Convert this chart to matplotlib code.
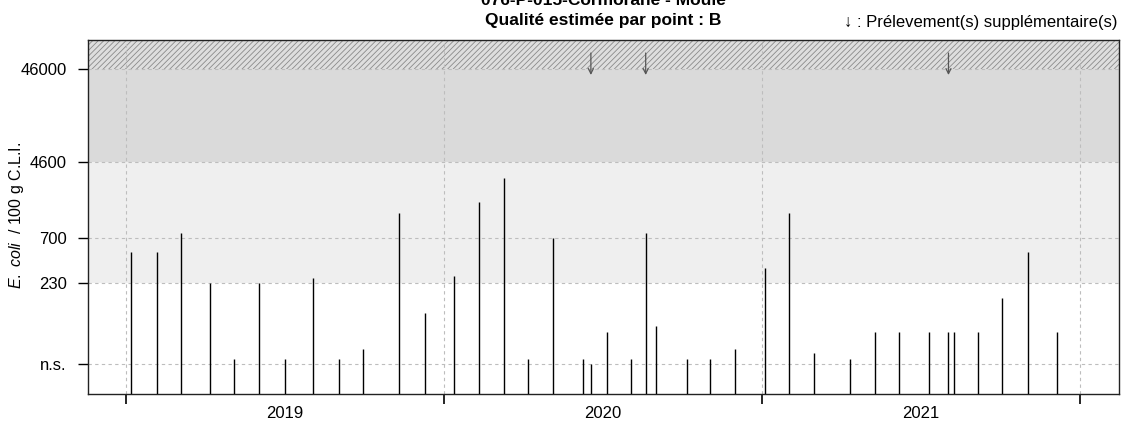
import matplotlib
matplotlib.use('Agg')
import matplotlib.pyplot as plt
import datetime as dt

plt.rcParams['font.family'] = ['Liberation Sans', 'DejaVu Sans']
plt.rcParams['mathtext.fontset'] = 'custom'
plt.rcParams['mathtext.it'] = 'Liberation Sans:italic'
plt.rcParams['mathtext.rm'] = 'Liberation Sans'
plt.rcParams['hatch.linewidth'] = 0.6
plt.rcParams['hatch.color'] = '#8a8a8a'

# ---- data ----
sample_dates = [
    '2019-01-06', '2019-02-05', '2019-03-05', '2019-04-07', '2019-05-05', '2019-06-03',
    '2019-07-02', '2019-08-04', '2019-09-02', '2019-09-30', '2019-11-11', '2019-12-10',
    '2020-01-13', '2020-02-10', '2020-03-10', '2020-04-07', '2020-05-05', '2020-06-09',
    '2020-06-18', '2020-07-07', '2020-08-03', '2020-08-20', '2020-09-01', '2020-10-06',
    '2020-11-02', '2020-12-01',
    '2021-01-04', '2021-02-01', '2021-03-01', '2021-04-12', '2021-05-10', '2021-06-07',
    '2021-07-12', '2021-08-03', '2021-08-09', '2021-09-06', '2021-10-04', '2021-11-02',
    '2021-12-06',
]
ecoli_values = [
    490, 490, 790, 230, 35, 230,
    35, 260, 35, 45, 1300, 110,
    270, 1700, 3100, 35, 700, 35,
    31, 68, 35, 790, 78, 35,
    35, 45,
    330, 1300, 40, 35, 68, 68,
    68, 68, 68, 68, 160, 490,
    68,
]
extra_sample_dates = ['2020-06-18', '2020-08-20', '2021-08-03']

ytick_values = [31, 230, 700, 4600, 46000]
ytick_labels = ['n.s.', '230', '700', '4600', '46000']
year_labels = ['2019', '2020', '2021']
year_bounds = ['2019-01-01', '2020-01-01', '2021-01-01', '2022-01-01']

title_line1 = '076-P-015-Cormorane - Moule'
title_line2 = 'Qualité estimée par point : B'
legend_text = '↓ : Prélevement(s) supplémentaire(s)'
ylabel_text = r'$\mathit{E.\ coli}$  / 100 g C.L.I.'

# ---- figure ----
W, H = 1122, 423
fig = plt.figure(figsize=(W / 100, H / 100), dpi=100)
ax = fig.add_axes([88 / W, (H - 393.7) / H, (1119 - 88) / W, (393.7 - 40) / H])

to_d = lambda s: dt.datetime.strptime(s, '%Y-%m-%d')
xd = [to_d(s) for s in sample_dates]
yb = [to_d(s) for s in year_bounds]

ymin, ymax = 14.7, 95600
xmin, xmax = dt.datetime(2018, 11, 18), dt.datetime(2022, 2, 15)
ax.set_yscale('log')
ax.set_ylim(ymin, ymax)
ax.set_xlim(xmin, xmax)

# background bands
ax.axhspan(230, 4600, color='#efefef', zorder=0, lw=0)
ax.axhspan(4600, 46000, color='#dadada', zorder=0, lw=0)
ax.axhspan(46000, ymax, facecolor='#dedede', edgecolor='#8a8a8a', hatch='//////', zorder=0, lw=0)

# grid
for v in ytick_values:
    ax.axhline(v, color='#bdbdbd', lw=0.8, ls=(0, (3, 3)), zorder=1)
for d in yb:
    ax.axvline(d, color='#bdbdbd', lw=0.8, ls=(0, (3, 3)), zorder=1)

# sample lines
ax.vlines(xd, ymin, ecoli_values, color='black', lw=1.0, zorder=3)

# supplementary arrows
for s in extra_sample_dates:
    d = to_d(s)
    ax.annotate('', xy=(d, 40100), xytext=(d, 69200),
                arrowprops=dict(arrowstyle='->', color='#555555', lw=0.9,
                                shrinkA=0, shrinkB=0, mutation_scale=9),
                zorder=4)

# axes styling
ax.set_yticks(ytick_values)
ax.set_yticklabels(ytick_labels)
ax.yaxis.set_minor_locator(matplotlib.ticker.NullLocator())
ax.tick_params(axis='y', direction='out', length=7.2, width=1, labelsize=12, pad=8)

ax.set_xticks(yb)
ax.set_xticklabels([''] * len(yb))
mid = [to_d(s) + (to_d(e) - to_d(s)) / 2 for s, e in zip(year_bounds[:-1], year_bounds[1:])]
ax.set_xticks(mid, minor=True)
ax.set_xticklabels(year_labels, minor=True)
ax.tick_params(axis='x', which='major', direction='out', length=7.5, width=1.2)
ax.tick_params(axis='x', which='minor', length=0, labelsize=12, pad=9)

for sp in ax.spines.values():
    sp.set_linewidth(1.0)
    sp.set_color('#222222')

fig.text(17 / W, 1 - 215 / H, ylabel_text, rotation=90, ha='center', va='center', fontsize=11.5)

# titles
cx = (88 + 1119) / 2 / W
fig.text(cx, 1 - 5 / H, title_line1, ha='center', va='baseline', fontsize=12.5, fontweight='bold')
fig.text(cx, 1 - 25 / H, title_line2, ha='center', va='baseline', fontsize=12.5, fontweight='bold')
fig.text(1117 / W, 1 - 27 / H, legend_text, ha='right', va='baseline', fontsize=12)

fig.savefig('out.png', dpi=100)
